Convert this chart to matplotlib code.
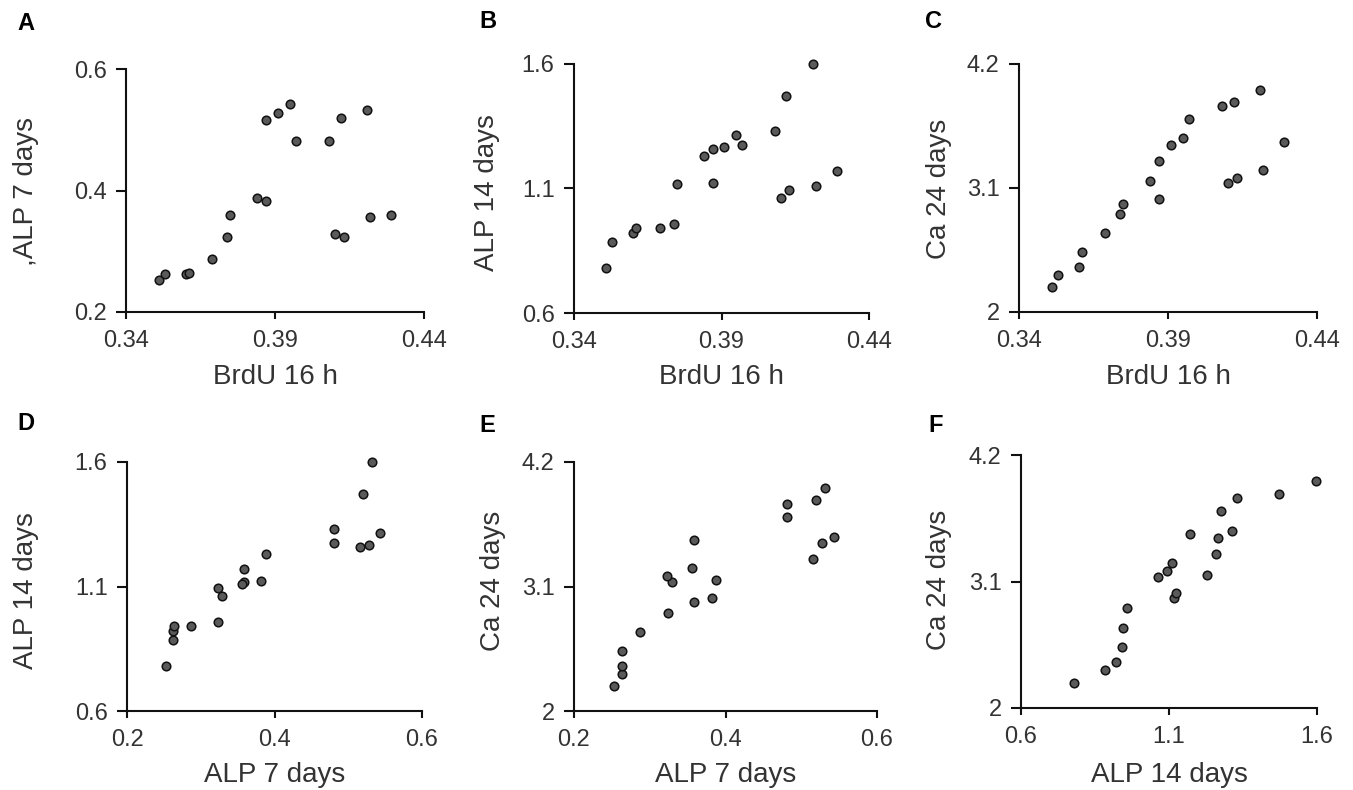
import matplotlib
matplotlib.use("Agg")
import matplotlib.pyplot as plt

plt.rcParams["font.family"] = ["Liberation Sans", "DejaVu Sans"]

# one row per sample (20 samples)
brdu_16h = [0.351, 0.353, 0.360, 0.361, 0.369, 0.374, 0.375, 0.384, 0.387, 0.387,
            0.391, 0.395, 0.397, 0.408, 0.412, 0.410, 0.413, 0.421, 0.422, 0.429]
alp_7d = [0.253, 0.263, 0.263, 0.264, 0.287, 0.324, 0.359, 0.388, 0.382, 0.516,
          0.528, 0.543, 0.481, 0.481, 0.520, 0.329, 0.323, 0.532, 0.356, 0.359]
alp_14d = [0.779, 0.884, 0.922, 0.940, 0.943, 0.957, 1.118, 1.230, 1.123, 1.258,
           1.267, 1.313, 1.276, 1.331, 1.470, 1.063, 1.092, 1.598, 1.110, 1.170]
ca_24d = [2.22, 2.33, 2.40, 2.53, 2.70, 2.87, 2.96, 3.16, 3.00, 3.34,
          3.48, 3.54, 3.71, 3.83, 3.86, 3.14, 3.19, 3.97, 3.26, 3.51]

brdu_ticks = [0.34, 0.39, 0.44]
alp7_ticks = [0.2, 0.4, 0.6]
alp14_ticks = [0.6, 1.1, 1.6]
ca_ticks = [2, 3.1, 4.2]

W, H = 1353, 790

# letter, x, y, xticks, yticks, xlabel, ylabel,
# axes box px (left, top, right, bottom), letter centre px, ylabel centre px, xlabel centre y px
panels = [
    ("A", brdu_16h, alp_7d, brdu_ticks, alp7_ticks, "BrdU 16 h", ",ALP 7 days",
     (126, 69, 424, 312), (26, 23), (26, 192), 377),
    ("B", brdu_16h, alp_14d, brdu_ticks, alp14_ticks, "BrdU 16 h", "ALP 14 days",
     (574, 64, 869, 313), (488, 22), (487, 193), 377),
    ("C", brdu_16h, ca_24d, brdu_ticks, ca_ticks, "BrdU 16 h", "Ca 24 days",
     (1019, 64, 1317, 312), (934, 22), (939, 189), 377),
    ("D", alp_7d, alp_14d, alp7_ticks, alp14_ticks, "ALP 7 days", "ALP 14 days",
     (127, 462, 422, 711), (26, 424), (26, 591), 775),
    ("E", alp_7d, ca_24d, alp7_ticks, ca_ticks, "ALP 7 days", "Ca 24 days",
     (574, 462, 877, 711), (487, 425), (493, 581), 775),
    ("F", alp_14d, ca_24d, alp14_ticks, ca_ticks, "ALP 14 days", "Ca 24 days",
     (1021, 455, 1317, 708), (936, 425), (939, 580), 775),
]

fig = plt.figure(figsize=(W / 100, H / 100), dpi=100)

for letter, xs, ys, xt, yt, xl, yl, (l, t, r, b), (lx, ly), (yx, yy), xly in panels:
    ax = fig.add_axes([l / W, 1 - b / H, (r - l) / W, (b - t) / H])
    ax.scatter(xs, ys, s=38, facecolor="#5a5a5a", edgecolor="#111111", linewidth=1.1,
               zorder=3, clip_on=False)
    ax.set_xlim(xt[0], xt[-1])
    ax.set_ylim(yt[0], yt[-1])
    ax.set_xticks(xt)
    ax.set_yticks(yt)
    ax.set_xticklabels([f"{v:g}" for v in xt])
    ax.set_yticklabels([f"{v:g}" for v in yt])
    for side in ("top", "right"):
        ax.spines[side].set_visible(False)
    for side in ("left", "bottom"):
        ax.spines[side].set_linewidth(1.5)
        ax.spines[side].set_color("#111111")
    ax.tick_params(axis="x", direction="out", length=5, width=1.5, labelsize=17,
                   labelcolor="#333333", pad=8, color="#111111")
    ax.tick_params(axis="y", direction="out", length=7, width=1.5, labelsize=17,
                   labelcolor="#333333", pad=7, color="#111111")

    ax.set_xlabel(xl, fontsize=20, color="#333333")
    ax.xaxis.label.set_verticalalignment("center")
    ax.xaxis.set_label_coords(0.5, (b - xly) / (b - t))

    ax.set_ylabel(yl, fontsize=20, color="#333333")
    ax.yaxis.label.set_verticalalignment("center")
    ax.yaxis.set_label_coords((yx - l) / (r - l), (b - yy) / (b - t))

    fig.text(lx / W, 1 - ly / H, letter, fontsize=17, fontweight="bold",
             ha="center", va="center")

plt.savefig("out.png", dpi=100)
